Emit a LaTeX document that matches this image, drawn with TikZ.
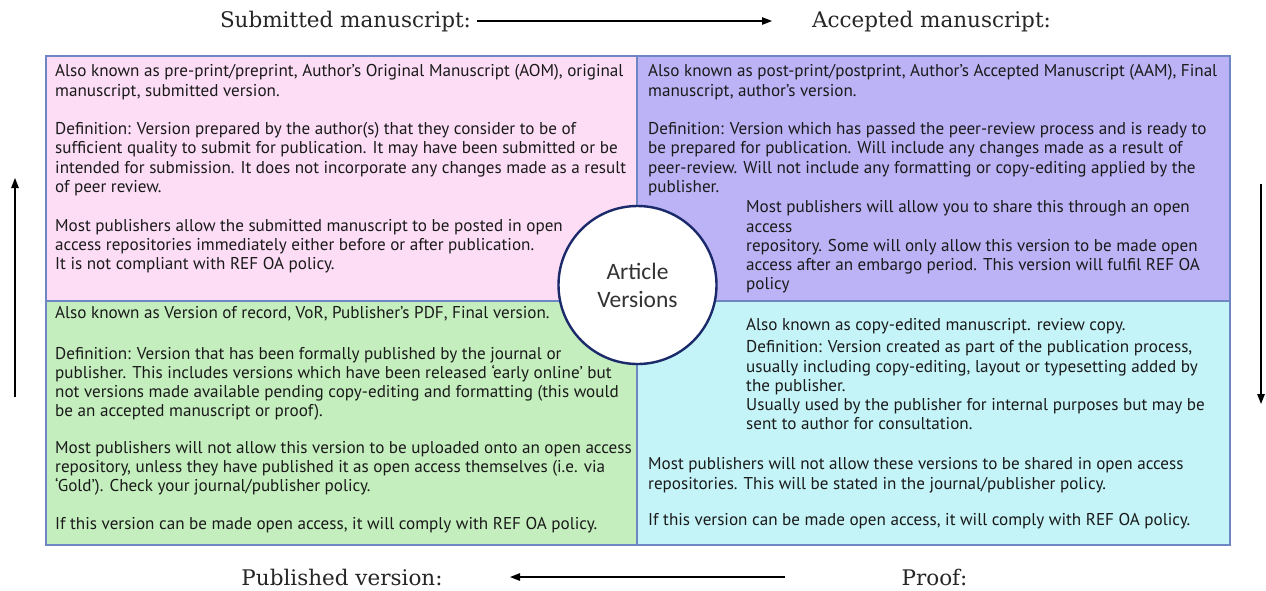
\documentclass[tikz,border=0pt]{standalone}
\usepackage{fontspec}
\setmainfont{PT Sans}
\newfontfamily\headfont{DejaVu Serif}
\newfontfamily\hubfont{Carlito}
\usetikzlibrary{arrows.meta}

\definecolor{pinkq}{HTML}{FCDDF5}
\definecolor{purpleq}{HTML}{BBB3F6}
\definecolor{greenq}{HTML}{C4EEBE}
\definecolor{cyanq}{HTML}{C4F4F8}
\definecolor{edgeq}{HTML}{6E86C4}
\definecolor{navyq}{HTML}{1B2A6B}
\definecolor{inkq}{HTML}{1A1A1A}

\begin{document}
\begin{tikzpicture}[x=1pt,y=-1pt,
    quad/.style={draw=edgeq, line width=1.4pt},
    body/.style={anchor=north west, inner sep=0pt, align=left, text=inkq,
                 font=\fontsize{17.1}{19.3}\selectfont},
    head/.style={text=black!85, font=\headfont\fontsize{21.5}{26}\selectfont},
    flow/.style={-{Triangle[length=10pt,width=7.5pt]}, line width=1.3pt}]
    \newcommand{\midx}{637}
    \newcommand{\midy}{301}

    \useasboundingbox (0,0) rectangle (1266,590);
    \fill[white] (0,0) rectangle (1266,590);

    % quadrants
    \draw[quad, fill=pinkq]   (46,56)     rectangle (\midx,\midy);
    \draw[quad, fill=purpleq] (\midx,56)  rectangle (1230,\midy);
    \draw[quad, fill=greenq]  (46,\midy)  rectangle (\midx,545);
    \draw[quad, fill=cyanq]   (\midx,\midy) rectangle (1230,545);

    % submitted manuscript
    \node[body] (subtxt) at (55,63) {\strut Also known as pre-print/preprint, Author’s Original Manuscript (AOM), original\\
        manuscript, submitted version.\\[19.3pt]
        Definition: Version prepared by the author(s) that they consider to be of\\
        sufficient quality to submit for publication. It may have been submitted or be\\
        intended for submission. It does not incorporate any changes made as a result\\
        of peer review.\\[19.3pt]
        Most publishers allow the submitted manuscript to be posted in open\\
        access repositories immediately either before or after publication.\\
        It is not compliant with REF OA policy.};

    % accepted manuscript
    \node[body] (acctxt) at (648,63) {\strut Also known as post-print/postprint, Author’s Accepted Manuscript (AAM), Final\\
        manuscript, author’s version.\\[19.3pt]
        Definition: Version which has passed the peer-review process and is ready to\\
        be prepared for publication. Will include any changes made as a result of\\
        peer-review. Will not include any formatting or copy-editing applied by the\\
        publisher.};
    \node[body] (accmore) at (746,199) {\strut Most publishers will allow you to share this through an open\\
        access\\
        repository. Some will only allow this version to be made open\\
        access after an embargo period. This version will fulfil REF OA\\
        policy};

    % published version
    \node[body] (pubtxt) at (55,305) {\strut Also known as Version of record, VoR, Publisher’s PDF, Final version.\\[21pt]
        Definition: Version that has been formally published by the journal or\\
        publisher. This includes versions which have been released ‘early online’ but\\
        not versions made available pending copy-editing and formatting (this would\\
        be an accepted manuscript or proof).\\[17pt]
        Most publishers will not allow this version to be uploaded onto an open access\\
        repository, unless they have published it as open access themselves (i.e. via\\
        ‘Gold’). Check your journal/publisher policy.\\[18pt]
        If this version can be made open access, it will comply with REF OA policy.};

    % proof
    \node[body] (prftxt) at (746,317) {\strut Also known as copy-edited manuscript. review copy.\\[2.7pt]
        Definition: Version created as part of the publication process,\\
        usually including copy-editing, layout or typesetting added by\\
        the publisher.\\
        Usually used by the publisher for internal purposes but may be\\
        sent to author for consultation.};
    \node[body] (prfmore) at (648,456) {\strut Most publishers will not allow these versions to be shared in open access\\
        repositories. This will be stated in the journal/publisher policy.\\[17.5pt]
        If this version can be made open access, it will comply with REF OA policy.};

    % centre
    \node[circle, draw=navyq, line width=2.4pt, fill=white, minimum size=158pt, inner sep=0pt,
          align=center, text=black!80, font=\hubfont\fontsize{23.5}{28}\selectfont] (hub) at (637.5,285) {Article\\Versions};

    % headings
    \node[head] (sub) at (345.5,22) {Submitted manuscript:};
    \node[head] (acc) at (931.5,22) {Accepted manuscript:};
    \node[head] (pub) at (342,577) {Published version:};
    \node[head] (prf) at (934.5,577) {Proof:};

    % arrows
    \coordinate (topa) at (477,21);
    \coordinate (topb) at (772,21);
    \coordinate (rgta) at (1261,184);
    \coordinate (rgtb) at (1261,404);
    \coordinate (bota) at (785,577);
    \coordinate (botb) at (510,577);
    \coordinate (lfta) at (15,397);
    \coordinate (lftb) at (15,178);
    \draw[flow] (topa) -- (topb);
    \draw[flow] (rgta) -- (rgtb);
    \draw[flow] (bota) -- (botb);
    \draw[flow] (lfta) -- (lftb);
\end{tikzpicture}
\end{document}
